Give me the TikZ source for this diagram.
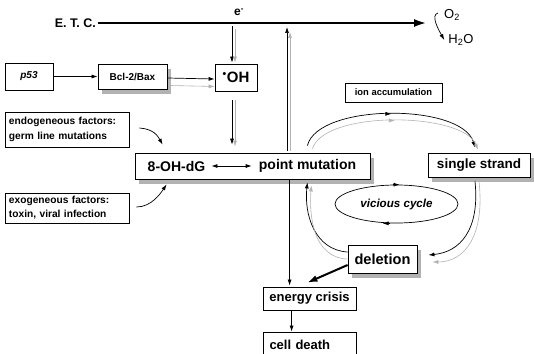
\documentclass[tikz,border=0pt]{standalone}
\usepackage{fontspec}
\setmainfont{Liberation Sans}
\usetikzlibrary{arrows.meta,shadows,shapes.geometric,calc,decorations.markings}

\newcommand{\fsz}[1]{\fontsize{#1}{#1}\selectfont\bfseries}

\tikzset{
  box/.style={draw, line width=0.8pt, fill=white, inner sep=0pt},
  shbox/.style={box, drop shadow={shadow xshift=4pt, shadow yshift=-5pt, fill=gray!60, opacity=1}},
  lbl/.style={inner sep=2pt},
  arr/.style={-{Latex[length=6pt,width=4pt]}, line width=0.7pt},
  garr/.style={-{Latex[length=6pt,width=4pt]}, line width=0.6pt, color=gray!60},
  midarr/.style={postaction={decorate}, decoration={markings,
      mark=at position #1 with {\arrow{Latex[length=6pt,width=4pt]}}}},
}

\begin{document}
\begin{tikzpicture}[x=1pt,y=-1pt]
    \clip (0,0) rectangle (534,353);

    % electron transport chain
    \node[lbl, anchor=east, font=\fsz{12.5}] (etc) at (98,23) {E. T. C.};
    \node[lbl, font=\fsz{12}] (elec) at (239,12) {e\textsuperscript{-}};
    \node[lbl, font=\fontsize{13}{13}\selectfont] (otwo) at (452,15) {O\textsubscript{2}};
    \node[lbl, font=\fontsize{13}{13}\selectfont] (water) at (461,40) {H\textsubscript{2}O};
    \coordinate (etcend) at (427,23);
    \coordinate (etcin) at (232,23);
    \coordinate (etcup) at (287,23);
    \draw[line width=2.6pt, -{Latex[length=13pt,width=8pt]}] (etc.east) -- (etcend);
    \draw[arr] ($(otwo.west)+(-4,-2)$) .. controls +(-8,2) and +(-5,-9) .. ($(water.west)+(-2,0)$);

    % upstream boxes
    \node[box, minimum width=48, minimum height=27, font=\fsz{10}\itshape] (pfiftythree) at (29,76.5) {p53};
    \node[shbox, minimum width=69, minimum height=25, font=\fsz{10}] (bcl) at (132.5,76.5) {Bcl-2/Bax};
    \node[box, minimum width=42, minimum height=27, font=\fsz{15}] (oh) at (236,77.5) {\textsuperscript{\textbullet}OH};
    \node[box, text width=116, inner xsep=4, minimum height=35, align=left,
          font=\fontsize{10.2}{15}\selectfont\bfseries] (endo) at (67,129.5) {endogeneous factors:\\germ line mutations};
    \node[box, text width=116, inner xsep=4, minimum height=30, align=left,
          font=\fontsize{10.2}{14}\selectfont\bfseries] (exo) at (67,208) {exogeneous factors:\\toxin, viral infection};

    \draw[arr] (pfiftythree) -- (bcl);
    \draw[arr] ($(bcl.east)+(0,1.5)$) -- ($(oh.west)+(0,1.5)$);
    \draw[garr] ($(bcl.east)+(3,9)$) -- ($(oh.west)+(0,9)$);
    \draw[arr] ($(etcin)+(0,3)$) -- ($(oh.north -| etcin)+(0,-1)$);
    \draw[garr] ($(etcin)+(3,6)$) -- ($(oh.north -| etcin)+(3,-1)$);

    % central box
    \node[shbox, minimum width=235, minimum height=26] (main) at (252.5,166) {};
    \node[lbl, font=\fsz{14}] (ohdg) at (176.5,166) {8-OH-dG};
    \node[lbl, font=\fsz{14}] (pm) at (307.5,166) {point mutation};
    \draw[{Latex[length=6pt,width=4pt]}-{Latex[length=6pt,width=4pt]}, line width=0.7pt,
          shorten <=4pt, shorten >=5pt] (ohdg) -- (pm);

    \draw[arr] ($(oh.south -| etcin)+(0,9)$) -- ($(main.north -| etcin)+(0,-8)$);
    \draw[garr] ($(oh.south -| etcin)+(3,9)$) -- ($(main.north -| etcin)+(3,-6)$);
    \draw[arr] ($(main.north -| etcup)+(0,-2)$) -- ($(etcup)+(0,4)$);
    \draw[garr] ($(main.north -| etcup)+(3,-2)$) -- ($(etcup)+(3,9)$);
    \draw[arr] ($(endo.east)+(10,-1.5)$) .. controls +(14,1) and +(-5,-9) .. ($(main.north west)+(28,-8)$);
    \draw[arr] ($(exo.east)+(7,-1)$) .. controls +(15,0) and +(-6,9) .. ($(main.south west)+(32,5)$);

    % vicious cycle
    \node[box, minimum width=97, minimum height=19, font=\fsz{9.4}] (ion) at (393.5,92.5) {ion accumulation};
    \node[shbox, minimum width=102, minimum height=24, font=\fsz{13.5}] (ss) at (479,165) {single strand};
    \node[draw, ellipse, line width=0.7pt, minimum width=123, minimum height=38, inner sep=0pt,
          font=\fsz{11.6}\itshape] (vicious) at (396.5,204) {vicious cycle};
    \draw[arr] ($(vicious.north)+(-4,0)$) -- ($(vicious.north)+(3,0)$);
    \draw[arr] ($(vicious.south)+(-7,0)$) -- ($(vicious.south)+(-14,0)$);
    \node[shbox, minimum width=69, minimum height=28, font=\fsz{14.6}] (del) at (382.5,259) {deletion};

    \draw[arr, midarr=0.5] ($(main.north east)+(-63,-7)$) .. controls (318,103) and (462,103) .. ($(ss.north)+(-4,-5)$);
    \draw[garr, midarr=0.5] ($(main.north east)+(-58,-4)$) .. controls (325,110) and (462,112) .. ($(ss.north)+(-1,-3)$);
    \draw[arr] ($(ss.south)+(-4,4)$) .. controls (480,230) and (460,252) .. ($(del.east)+(11,-4)$);
    \draw[garr] ($(ss.south)+(0,4)$) .. controls (485,235) and (465,262) .. ($(del.east)+(15,3)$);
    \draw[arr] ($(del.west)+(0,-7)$) .. controls (315,250) and (304,215) .. ($(main.south east)+(-63,3)$);
    \draw[garr] ($(del.west)+(0,0)$) .. controls (313,258) and (309,215) .. ($(main.south east)+(-59,6)$);

    % outcome
    \node[box, minimum width=93, minimum height=23, font=\fsz{13}] (crisis) at (309.5,298.5) {energy crisis};
    \node[box, text width=80, inner xsep=6.5, minimum height=26, align=left, font=\fsz{13}] (death) at (309.5,345) {cell death};
    \draw[arr] ($(main.south west)+(155,0)$) coordinate (pmdown) -- ($(pmdown |- crisis.north)+(0,-1)$);
    \draw[arr] ($(crisis.south west)+(29,0)$) coordinate (cd) -- (cd |- death.north);
    \draw[line width=2pt, -{Latex[length=10pt,width=7pt]}] ($(del.west)+(0,6)$) -- ($(crisis.north east)+(-49,-4)$);
\end{tikzpicture}
\end{document}
